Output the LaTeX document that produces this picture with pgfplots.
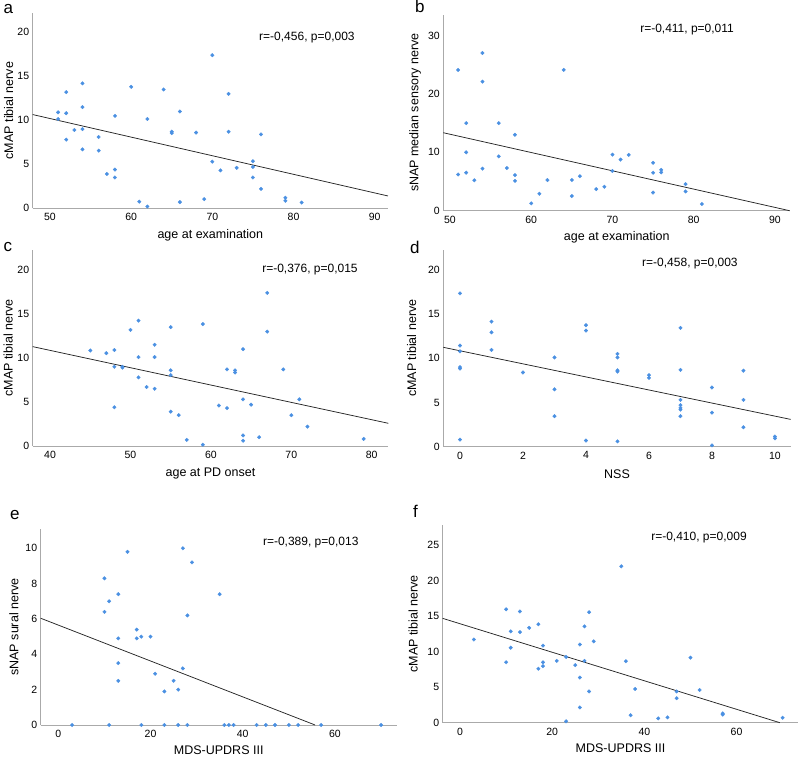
\documentclass[border=0pt]{standalone}
\usepackage{fontspec}
\setmainfont{Liberation Sans}
\usepackage{pgfplots}
\pgfplotsset{compat=1.18}

\definecolor{dotblue}{RGB}{74,144,226}
\definecolor{axgray}{RGB}{170,170,170}

\pgfplotsset{
  panel/.style={
    scale only axis, clip=false, anchor=south west,
    axis lines*=left,
    axis line style={draw=axgray, line width=0.9pt},
    major tick length=0pt, tick style={draw=none},
    /pgf/number format/assume math mode=true,
    ticklabel style={font=\fontsize{10.5}{12}\selectfont},
    xticklabel style={yshift=-1.5pt},
    label style={font=\fontsize{12.5}{14}\selectfont},
    xlabel style={at={(axis description cs:0.5,0)}, anchor=center, yshift=-27pt},
    ymin=0,
  },
  dots/.style={color=dotblue, only marks, mark=*, mark size=1.8pt,
    mark options={draw=dotblue, fill=dotblue, line width=0.3pt}},
  fit/.style={no marks, draw=black!85, line width=0.75pt},
}
\tikzset{note/.style={anchor=west, inner sep=0pt, font=\fontsize{12}{14}\selectfont}}
\newcommand{\panelletter}[2]{\node[anchor=base west, inner sep=0pt, font=\fontsize{17}{20}\selectfont] at #1 {#2};}

\begin{document}
\begin{tikzpicture}
\path[use as bounding box] (0,0) rectangle (799pt,757pt);

% a
\begin{axis}[panel, at={(32.7pt,548.7pt)}, width=355.3pt, height=195.3pt,
  xmin=47.87, xmax=91.64, ymax=22.19,
  xtick={50,60,70,80,90}, ytick={0,5,10,15,20},
  xlabel={age at examination}, ylabel={cMAP tibial nerve},
  ylabel style={at={(axis description cs:-0.0675,0.5)}, anchor=center}]
\addplot[dots] coordinates {
(51,10.9) (51,10.15) (52,13.2) (52,10.8) (52,7.8) (53,8.9) (54,14.2) (54,11.5)
(54,9.0) (54,6.7) (56,8.1) (56,6.55) (57,3.9) (58,10.5) (58,4.4) (58,3.5)
(60,13.8) (61,0.75) (62,10.15) (62,0.2) (64,13.5) (65,8.7) (65,8.55) (66,11.0)
(66,0.7) (68,8.6) (69,1.05) (70,17.4) (70,5.3) (71,4.3) (72,13.0) (72,8.7)
(73,4.6) (75,5.35) (75,4.7) (75,3.5) (76,8.4) (76,2.2) (79,1.2) (79,0.85) (81,0.65)};
\addplot[fit] coordinates {(47.87,10.65) (91.64,1.4)};
\node[note] at (rel axis cs:0.637,0.872) {r=-0,456, p=0,003};
\end{axis}

% b
\begin{axis}[panel, at={(443.3pt,546.3pt)}, width=347pt, height=196pt,
  xmin=49.18, xmax=91.89, ymax=33.56,
  xtick={50,60,70,80,90}, ytick={0,10,20,30},
  xlabel={age at examination}, ylabel={sNAP median sensory nerve},
  ylabel style={at={(axis description cs:-0.081,0.5)}, anchor=center}]
\addplot[dots] coordinates {
(51,24.1) (51,6.2) (52,15.0) (52,10.0) (52,6.5) (53,5.2) (54,27.0) (54,22.1)
(54,7.2) (56,15.0) (56,9.3) (57,7.3) (58,13.0) (58,6.1) (58,5.1) (60,1.25)
(61,2.9) (62,5.25) (64,24.1) (65,5.25) (65,2.5) (66,5.9) (68,3.7) (69,4.1)
(70,9.6) (70,6.8) (71,8.75) (72,9.55) (75,8.2) (75,6.5) (75,3.1) (76,7.0)
(76,6.55) (79,4.55) (79,3.3) (81,1.15)};
\addplot[fit] coordinates {(49.18,13.35) (91.8,0)};
\node[note] at (rel axis cs:0.567,0.922) {r=-0,411, p=0,011};
\end{axis}

% c
\begin{axis}[panel, at={(32.7pt,311pt)}, width=355.6pt, height=196pt,
  xmin=37.84, xmax=82.06, ymax=22.27,
  xtick={40,50,60,70,80}, ytick={0,5,10,15,20},
  xlabel={age at PD onset}, ylabel={cMAP tibial nerve},
  ylabel style={at={(axis description cs:-0.069,0.5)}, anchor=center}]
\addplot[dots] coordinates {
(45,10.85) (47,10.55) (48,10.9) (48,9.0) (48,4.4) (49,9.0) (49,8.9) (50,13.2)
(51,14.25) (51,10.1) (51,7.8) (52,6.7) (53,11.5) (53,10.1) (53,6.5) (55,13.5)
(55,8.6) (55,8.05) (55,3.9) (56,3.5) (57,0.7) (59,13.85) (59,0.15) (61,4.6)
(62,8.7) (62,4.3) (63,8.6) (63,8.35) (64,11.0) (64,5.3) (64,1.2) (64,0.6)
(65,4.7) (66,1.0) (67,17.4) (67,13.0) (69,8.7) (71,5.3) (70,3.5) (72,2.2) (79,0.8)};
\addplot[fit] coordinates {(37.84,11.29) (82.06,2.58)};
\node[note] at (rel axis cs:0.645,0.898) {r=-0,376, p=0,015};
\end{axis}

% d
\begin{axis}[panel, at={(443.3pt,310.3pt)}, width=347.4pt, height=197pt,
  xmin=-0.53, xmax=10.5, ymax=22.3,
  xtick={0,2,4,6,8,10}, ytick={0,5,10,15,20},
  xlabel={NSS}, ylabel={cMAP tibial nerve},
  ylabel style={at={(axis description cs:-0.091,0.5)}, anchor=center}]
\addplot[dots] coordinates {
(0,17.35) (0,11.45) (0,10.8) (0,9.0) (0,8.85) (0,0.8) (1,14.15) (1,12.95)
(1,10.95) (2,8.4) (3,10.1) (3,6.5) (3,3.45) (4,13.75) (4,13.15) (4,0.7)
(5,10.5) (5,10.1) (5,8.65) (5,8.5) (5,0.6) (6,8.1) (6,7.8) (7,13.45)
(7,8.7) (7,5.3) (7,4.7) (7,4.4) (7,4.2) (7,3.45) (8,6.7) (8,3.85)
(8,0.15) (9,8.6) (9,5.3) (9,2.2) (10,1.15) (10,0.95)};
\addplot[fit] coordinates {(-0.53,11.25) (10.5,3.09)};
\node[note] at (rel axis cs:0.572,0.932) {r=-0,458, p=0,003};
\end{axis}

% e
\begin{axis}[panel, at={(40.7pt,32pt)}, width=356pt, height=196pt,
  xmin=-3.83, xmax=73.4, ymax=11.09,
  xtick={0,20,40,60}, ytick={0,2,4,6,8,10},
  xlabel={MDS-UPDRS III}, ylabel={sNAP sural nerve},
  xlabel style={yshift=2pt},
  ylabel style={at={(axis description cs:-0.075,0.5)}, anchor=center}]
\addplot[dots] coordinates {
(3,0) (10,8.3) (10,6.4) (11,0) (11,7.0) (13,7.4) (13,4.9) (13,3.5)
(13,2.5) (15,9.8) (17,5.4) (17,4.9) (18,5.0) (18,0) (20,5.0) (21,2.9)
(23,1.9) (23,0) (25,2.5) (26,2.0) (26,0) (27,10.0) (27,3.2) (28,6.2)
(28,0) (29,9.2) (35,7.4) (36,0) (37,0) (38,0) (43,0) (45,0)
(47,0) (50,0) (52,0) (57,0) (70,0)};
\addplot[fit] coordinates {(-3.83,6.04) (55.7,0)};
\node[note] at (rel axis cs:0.624,0.929) {r=-0,389, p=0,013};
\end{axis}

% f
\begin{axis}[panel, at={(442.7pt,34.3pt)}, width=355.6pt, height=198pt,
  xmin=-3.76, xmax=73.4, ymax=27.86,
  xtick={0,20,40,60}, ytick={0,5,10,15,20,25},
  xlabel={MDS-UPDRS III}, ylabel={cMAP tibial nerve},
  xlabel style={yshift=2pt},
  ylabel style={at={(axis description cs:-0.083,0.5)}, anchor=center}]
\addplot[dots] coordinates {
(3,11.7) (10,15.95) (10,8.5) (11,12.85) (11,10.55) (13,15.65) (13,12.75) (15,13.35)
(17,13.85) (17,7.6) (18,10.85) (18,8.5) (18,7.95) (21,8.7) (23,9.25) (23,0.2)
(25,8.1) (26,11.0) (26,6.35) (26,2.15) (27,13.55) (27,8.7) (28,15.55) (28,4.4)
(29,11.45) (35,22.0) (36,8.65) (37,1.05) (38,4.75) (43,0.6) (45,0.75) (47,4.4)
(47,3.45) (50,9.15) (52,4.6) (57,1.3) (57,1.15) (70,0.7)};
\addplot[fit] coordinates {(-3.76,14.68) (69.4,0)};
\node[note] at (rel axis cs:0.586,0.933) {r=-0,410, p=0,009};
\end{axis}

\panelletter{(3.3pt,743pt)}{a}
\panelletter{(415pt,744pt)}{b}
\panelletter{(3.3pt,505pt)}{c}
\panelletter{(410pt,503pt)}{d}
\panelletter{(10pt,237pt)}{e}
\panelletter{(413pt,239pt)}{f}
\end{tikzpicture}
\end{document}
